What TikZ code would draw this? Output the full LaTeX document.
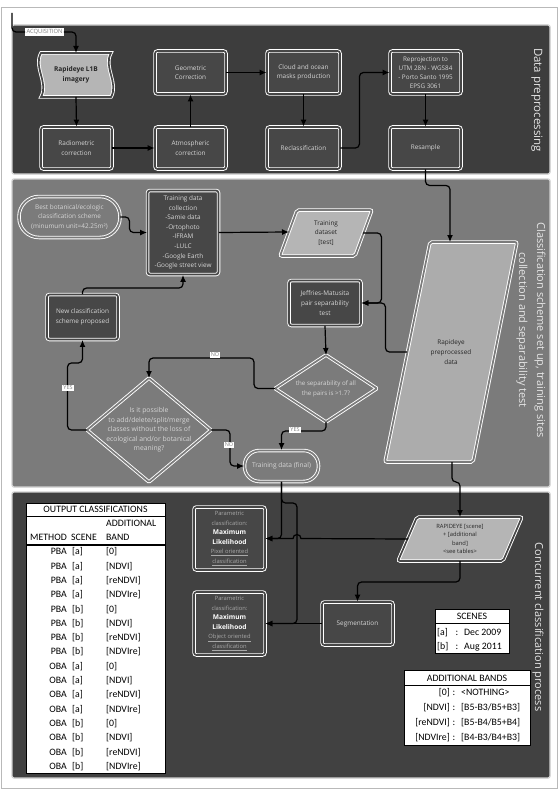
\documentclass[tikz,border=0pt]{standalone}
\usepackage{fontspec}
\setmainfont{Open Sans}
\newfontfamily\lblfont{Open Sans}
\newfontfamily\tabfont{Carlito}
\usetikzlibrary{arrows.meta,calc}
\definecolor{pA}{HTML}{3D3D3D}
\definecolor{pB}{HTML}{7B7B7B}
\definecolor{pC}{HTML}{414141}
\definecolor{bx}{HTML}{474747}
\definecolor{lt}{HTML}{B5B5B5}
\definecolor{tx}{HTML}{D6D6D6}
\definecolor{tg}{HTML}{A8A8A8}
\definecolor{dk}{HTML}{262626}
\begin{document}
\begin{tikzpicture}[x=1pt,y=-1pt,
  arr/.style={-{Latex[length=7pt,width=6pt]}, line width=1.2pt, black, rounded corners=4pt},
  ln/.style={line width=1.2pt, black, rounded corners=4pt},
  dbl/.style={draw=white, double=#1, double distance=1.7pt, line width=0.9pt},
  panel/.style={draw=white!82!black, line width=1.3pt, rounded corners=2pt},
  bfont/.style={font=\fontsize{6.4}{9.6}\selectfont},
  pbox/.style={rectangle, rounded corners=2.5pt, dbl=bx, fill=bx, text=tx, bfont, align=center, inner sep=1pt, minimum width=71pt, minimum height=43pt},
  stad/.style={rectangle, dbl=pB, fill=pB, text=tx, bfont, align=center, inner sep=1pt},
  ltxt/.style={text=dk, bfont, align=center, inner sep=1pt},
  wtxt/.style={text=tx, bfont, align=center, inner sep=1pt},
  lab/.style={fill=white, text=gray, font=\fontsize{5.5}{5.5}\selectfont, inner sep=1pt},
  plabel/.style={rotate=-90, text=white!90!black, align=center, inner sep=0pt},
  tb/.style={font=\tabfont\fontsize{9.8}{10}\selectfont, inner sep=0pt, text=black}
]
\useasboundingbox (0,0) rectangle (559,789);
\fill[white] (0,0) rectangle (559,789);
\draw[gray!55, line width=0.7pt] (1,7) rectangle (557,788);

% panels
\draw[panel, fill=pA] (12,25) rectangle (550,174);
\draw[panel, fill=pB] (12,179) rectangle (550,487);
\draw[panel, fill=pC] (12,492) rectangle (550,778);

% ---------- panel 1 ----------
\draw[dbl=bx, fill=lt] (41,53) -- (111,53) .. controls (103,67) and (119,83) .. (111,97)
  -- (41,97) .. controls (49,83) and (33,67) .. (41,53) -- cycle;
\node[ltxt, font=\fontsize{6.6}{9.6}\selectfont\bfseries] (l1b) at (76,75) {Rapideye L1B\\imagery};
\coordinate (l1bN) at (76,53);
\coordinate (l1bS) at (76,97);

\node[pbox] (geo) at (190.5,72.5) {Geometric\\Correction};
\node[pbox, minimum width=73pt] (cloud) at (303.5,72.5) {Cloud and ocean\\masks production};
\node[pbox, font=\fontsize{6.3}{9}\selectfont] (repro) at (425.5,72.5) {Reprojection to\\UTM 28N - WGS84\\- Porto Santo 1995\\EPSG 3061};
\node[pbox, minimum height=42pt] (radio) at (76.5,148) {Radiometric\\correction};
\node[pbox, minimum height=42pt] (atmo) at (190.5,148) {Atmospheric\\correction};
\node[pbox, minimum width=73pt, minimum height=42pt] (recl) at (303.5,148) {Reclassification};
\node[pbox, minimum height=42pt] (resam) at (425.5,148) {Resample};

\coordinate (acq0) at (12,13);
\node[fill=white, text=gray, font=\fontsize{5.8}{6}\selectfont, inner sep=1.2pt] (acq) at (44.5,32) {ACQUISITION};
\draw[ln] (acq0) |- (acq.west);
\draw[arr] (acq.east) -| (l1bN);
\draw[arr] (l1bS) -- (radio.north);
\draw[arr] (radio.east) -- (atmo.west);
\draw[arr] (atmo.north) -- (geo.south);
\draw[arr] (geo.east) -- (cloud.west);
\draw[arr] (cloud.south) -- (recl.north);
\draw[arr] (recl.east) -- ++(19,0) |- (repro.west);
\draw[arr] (repro.south) -- (resam.north);

% ---------- panel 2 ----------
\node[stad, rounded corners=20pt, minimum width=101pt, minimum height=41pt] (best) at (69.5,217)
  {Best botanical/ecologic\\classification scheme\\(minumum unit=42.25m²)};
\node[pbox, minimum height=84pt] (tdc) at (183,232.5)
  {Training data\\collection\\-Samie data\\-Ortophoto\\-IFRAM\\-LULC\\-Google Earth\\-Google street view};

\draw[dbl=pB, fill=lt, rounded corners=2pt] (297,210) -- (372,210) -- (355,256) -- (280,256) -- cycle;
\node[ltxt] (tds) at (326,233) {Training\\dataset\\{}[test]};
\coordinate (tdsW) at (289,232);
\coordinate (tdsE) at (363,233);

\node[pbox, minimum width=72pt, minimum height=45pt] (jm) at (325,303) {Jeffries-Matusita\\pair separability\\test};

\draw[dbl=pB, fill=lt!95!black, rounded corners=2pt] (430,242) -- (517,242) -- (473,462) -- (385,462) -- cycle;
\node[ltxt] (rpd) at (451,352) {Rapideye\\preprocessed\\data};
\coordinate (rpdT) at (450,242);
\coordinate (rpdL) at (407,352);
\coordinate (rpdB) at (452,462);

\coordinate (sepN) at (326,355);
\coordinate (sepS) at (326,422);
\coordinate (sepW) at (275,388.5);
\coordinate (sepE) at (377,388.5);
\draw[dbl=pB, fill=pB, rounded corners=1pt] (sepN) -- (sepE) -- (sepS) -- (sepW) -- cycle;
\node[wtxt, font=\fontsize{6.2}{9.6}\selectfont] (sep) at (326,389) {the separability of all\\the pairs is >1.7?};

\coordinate (possN) at (149,378);
\coordinate (possS) at (149,482);
\coordinate (possW) at (87,430);
\coordinate (possE) at (211,430);
\draw[dbl=pB, fill=pB, rounded corners=1pt] (possN) -- (possE) -- (possS) -- (possW) -- cycle;
\node[wtxt, font=\fontsize{6.8}{9.6}\selectfont] (poss) at (149,430) {Is it possible\\to add/delete/split/merge\\classes without the loss of\\ecological and/or botanical\\meaning?};

\node[pbox, minimum height=45pt] (newc) at (82.5,317) {New classification\\scheme proposed};
\node[stad, rounded corners=15pt, minimum width=74pt, minimum height=31pt, font=\fontsize{6.6}{9.6}\selectfont] (tdf) at (281.5,466) {Training data (final)};

\draw[arr] (best.east) -- ++(9,0) |- (tdc.west);
\draw[arr] (tdc.east) -- (tdsW);
\draw[arr] (tdsE) -| ($(jm.east)+(20,0)$) -- (jm.east);
\draw[arr] (rpdL) -| ($(jm.east)+(24,0)$) -- (jm.east);
\draw[arr] (jm.south) -- (sepN);
\draw[arr] (sepW) -- ++(-21,0) |- ($(possN)+(0,-20)$) -- (possN);
\draw[arr] (possW) -| ($(newc.south)+(-15,23)$) -| (newc.south);
\draw[arr] (newc.north) -- ++(0,-6) -| (tdc.south);
\draw[arr] (possE) -- ++(19,0) |- (tdf.west);
\draw[arr] (sepS) -- ++(0,9) -| (tdf.north);
\draw[arr] (resam.south) -- ++(0,16) -| (rpdT);

\node[lab] (no1) at (215,355) {NO};
\node[lab] (yes1) at (68,388) {YES};
\node[lab] (no2) at (229,445) {NO};
\node[lab] (yes2) at (295,430) {YES};

% ---------- panel 3 ----------
\node[pbox, minimum height=63pt, font=\fontsize{5.8}{9.5}\selectfont] (pix) at (229.5,538.5)
  {\textcolor{tg}{Parametric}\\\textcolor{tg}{classification:}\\{\fontsize{6.6}{9.5}\selectfont\bfseries\color{white}Maximum}\\{\fontsize{6.6}{9.5}\selectfont\bfseries\color{white}Likelihood}\\\textcolor{tg}{\underline{Pixel oriented}}\\\textcolor{tg}{\underline{classification}}};
\node[pbox, minimum height=63pt, font=\fontsize{5.8}{9.5}\selectfont] (obj) at (229.5,623.5)
  {\textcolor{tg}{Parametric}\\\textcolor{tg}{classification:}\\{\fontsize{6.6}{9.5}\selectfont\bfseries\color{white}Maximum}\\{\fontsize{6.6}{9.5}\selectfont\bfseries\color{white}Likelihood}\\\textcolor{tg}{\underline{Object oriented}}\\\textcolor{tg}{\underline{classification}}};

\draw[dbl=bx, fill=lt, rounded corners=2pt] (417,517) -- (522,517) -- (503,561) -- (398,561) -- cycle;
\node[ltxt, font=\fontsize{5.8}{8.6}\selectfont] (rs) at (460,539) {RAPIDEYE [scene]\\+ [additional\\band]\\<see tables>};
\coordinate (rsT) at (460,517);
\coordinate (rsB) at (460,561);
\coordinate (rsW) at (408,539);

\node[pbox, minimum height=43pt] (seg) at (357.5,623.5) {Segmentation};

\draw[arr] (rpdB) -- ++(0,20) -| (rsT);
\draw[arr] (rsB) -- ++(0,21) -| (seg.north);
\draw[arr] (seg.west) -- (obj.east);
\draw[arr] (tdf.south) |- (pix.east);
\draw[arr] (tdf.south) |- (297,503) |- (obj.east);
\draw[-{Latex[length=7pt,width=6pt]}, line width=1.2pt] (rsW) -- (301,538.5) arc[start angle=0, end angle=180, radius=4pt] -- (pix.east);

% output classifications table
\draw[fill=white, line width=0.7pt] (26,503) rectangle (165,773);
\draw[line width=0.6pt] (26,516) -- (165,516);
\draw[line width=1.3pt] (26,545) -- (165,545);
\node[tb] (oth) at (95.5,509.5) {OUTPUT CLASSIFICATIONS};
\node[tb, anchor=mid west] (oad) at (106,524) {ADDITIONAL};
\node[tb, anchor=mid east] (ome) at (67,538) {METHOD};
\node[tb, anchor=mid west] (osc) at (71,538) {SCENE};
\node[tb, anchor=mid west] (oba) at (106,538) {BAND};
\foreach \m/\s/\b [count=\i from 0] in {PBA/a/0,PBA/a/NDVI,PBA/a/reNDVI,PBA/a/NDVIre,PBA/b/0,PBA/b/NDVI,PBA/b/reNDVI,PBA/b/NDVIre,OBA/a/0,OBA/a/NDVI,OBA/a/reNDVI,OBA/a/NDVIre,OBA/b/0,OBA/b/NDVI,OBA/b/reNDVI,OBA/b/NDVIre}{
  \node[tb, anchor=mid east] (om\i) at (67,552+\i*14.33) {\m};
  \node[tb, anchor=mid west] (os\i) at (72,552+\i*14.33) {[\s]};
  \node[tb, anchor=mid west] (ob\i) at (106,552+\i*14.33) {[\b]};
}

% scenes table
\draw[fill=white, line width=0.7pt] (435,609) rectangle (509,653);
\draw[line width=0.6pt] (435,623) -- (509,623);
\node[tb] (sch) at (472,616.5) {SCENES};
\node[tb, anchor=mid west] (sa1) at (437,633) {[a]};
\node[tb] (sa2) at (457,633) {:};
\node[tb, anchor=mid west] (sa3) at (464,633) {Dec 2009};
\node[tb, anchor=mid west] (sb1) at (437,647) {[b]};
\node[tb] (sb2) at (457,647) {:};
\node[tb, anchor=mid west] (sb3) at (464,647) {Aug 2011};

% additional bands table
\draw[fill=white, line width=0.7pt] (404,670) rectangle (530,745);
\draw[line width=0.6pt] (404,685) -- (530,685);
\node[tb] (abh) at (467,678) {ADDITIONAL BANDS};
\foreach \l/\r [count=\i from 0] in {{[0]}/{<NOTHING>},{[NDVI]}/{[B5-B3/B5+B3]},{[reNDVI]}/{[B5-B4/B5+B4]},{[NDVIre]}/{[B4-B3/B4+B3]}}{
  \node[tb, anchor=mid east] (al\i) at (450,693+\i*15) {\l};
  \node[tb] (ac\i) at (454,693+\i*15) {:};
  \node[tb, anchor=mid west] (ar\i) at (461,693+\i*15) {\r};
}

% panel labels
\node[plabel, font=\lblfont\fontsize{11.5}{14}\selectfont] (lab1) at (537,100) {Data preprocessing};
\node[plabel, font=\lblfont\fontsize{11}{18}\selectfont] (lab2) at (531,330) {Classification scheme set up, training sites\\collection and separability test};
\node[plabel, font=\lblfont\fontsize{11}{14}\selectfont] (lab3) at (538,627) {Concurrent classification process};
\end{tikzpicture}
\end{document}
